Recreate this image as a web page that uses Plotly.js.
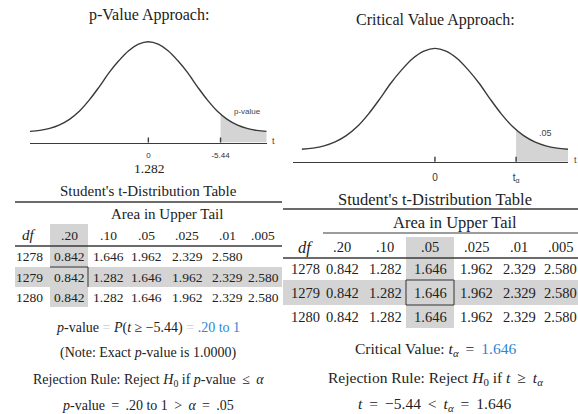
<!DOCTYPE html>
<html><head><meta charset="utf-8">
<script src="https://cdn.plot.ly/plotly-3.0.1.min.js"></script>
<style>html,body{margin:0;padding:0;background:#fff}</style>
</head><body><div id="chart" style="width:578px;height:414px"></div>
<script>
// ---------- data ----------
const curveT = [-3,-2.75,-2.5,-2.25,-2,-1.75,-1.5,-1.25,-1,-0.75,-0.5,-0.25,0,0.25,0.5,0.75,1,1.25,1.5,1.75,2,2.25,2.5,2.75,3];
const curveDensity = [0.11,0.12,0.14,0.175,0.23,0.31,0.42,0.55,0.69,0.81,0.91,0.975,1,0.975,0.91,0.81,0.69,0.55,0.42,0.31,0.23,0.175,0.14,0.12,0.11];
const tailStart = 1.83;                 // sketch position of the marked statistic
const tickPositions = [0, tailStart];
const leftTickText = ['0', '-5.44'];
const rightTickText = ['0', 't<sub>α</sub>'];
const upperTailAreas = ['.20', '.10', '.05', '.025', '.01', '.005'];
const dfValues = ['1278', '1279', '1280'];
const leftTableRows = [
  ['0.842','1.646','1.962','2.329','2.580',''],
  ['0.842','1.282','1.646','1.962','2.329','2.580'],
  ['0.842','1.282','1.646','1.962','2.329','2.580']
];
const rightTableRows = [
  ['0.842','1.282','1.646','1.962','2.329','2.580'],
  ['0.842','1.282','1.646','1.962','2.329','2.580'],
  ['0.842','1.282','1.646','1.962','2.329','2.580']
];
const leftHighlightCol = 0;   // .20
const rightHighlightCol = 2;  // .05

// ---------- helpers ----------
const W = 578, H = 414;
const px = x => x / W, py = y => 1 - y / H;
const SERIF = 'Liberation Serif, Times New Roman, serif';
const SANS = 'Liberation Sans, Arial, sans-serif';
const INK = '#222222', GRAY = '#d4d4d4', BLUE = '#2b86d6', LIGHT = '#cccccc';
const TS = '\u2009';
const rel = s => ' ' + TS + s + TS + ' ';
const annotations = [], shapes = [];
function A(text, x, y, size, extra) {
  annotations.push(Object.assign({text, x: px(x), y: py(y), xref: 'paper', yref: 'paper',
    xanchor: 'center', yanchor: 'middle', showarrow: false,
    font: {family: SERIF, size, color: INK}}, extra || {}));
}
function rect(x0, y0, x1, y1, fill, line) {
  shapes.push({type: 'rect', xref: 'paper', yref: 'paper', x0: px(x0), x1: px(x1), y0: py(y1), y1: py(y0),
    fillcolor: fill || 'rgba(0,0,0,0)', line: line || {width: 0}});
}
function hline(x0, x1, y, w, c) {
  shapes.push({type: 'line', xref: 'paper', yref: 'paper', x0: px(x0), x1: px(x1), y0: py(y), y1: py(y),
    line: {color: c || '#3a3a3a', width: w || 1.2}});
}
function vline(x, y0, y1, w, c) {
  shapes.push({type: 'line', xref: 'paper', yref: 'paper', x0: px(x), x1: px(x), y0: py(y0), y1: py(y1),
    line: {color: c || '#3a3a3a', width: w || 1.2}});
}
function interp(t) {
  for (let i = 0; i < curveT.length - 1; i++) {
    if (t >= curveT[i] && t <= curveT[i + 1]) {
      const f = (t - curveT[i]) / (curveT[i + 1] - curveT[i]);
      return curveDensity[i] + f * (curveDensity[i + 1] - curveDensity[i]);
    }
  }
  return 0;
}
const shadeX = [tailStart].concat(curveT.filter(t => t > tailStart));
const shadeY = shadeX.map(interp);

// ---------- traces ----------
const traces = [];
[['x', 'y'], ['x2', 'y2']].forEach(([xa, ya]) => {
  traces.push({x: shadeX, y: shadeY, xaxis: xa, yaxis: ya, mode: 'lines', fill: 'tozeroy',
    fillcolor: GRAY, line: {width: 0, shape: 'spline'}, hoverinfo: 'skip', showlegend: false});
  traces.push({x: curveT, y: curveDensity, xaxis: xa, yaxis: ya, mode: 'lines',
    line: {color: '#3a3a3a', width: 1.4, shape: 'spline', smoothing: 1}, hoverinfo: 'skip', showlegend: false});
});

// tick marks crossing the axis line
[['x', 'y'], ['x2', 'y2']].forEach(([xa, ya]) => {
  tickPositions.forEach(t => shapes.push({type: 'line', xref: xa, yref: ya, x0: t, x1: t,
    ysizemode: 'pixel', yanchor: 0, y0: -5, y1: 5, line: {color: '#3a3a3a', width: 1.4}}));
});

// ---------- titles / curve labels ----------
A('p-Value Approach:', 149, 15, 16);
A('Critical Value Approach:', 435, 20, 16);
A('p-value', 247, 112, 8, {font: {family: SANS, size: 8, color: '#444'}});
A('.05', 545, 133, 9, {font: {family: SANS, size: 9, color: '#444'}});
A('t', 273, 141, 9, {font: {family: SANS, size: 9, color: '#444'}});
A('t', 575, 160, 9, {font: {family: SANS, size: 9, color: '#444'}});
A('1.282', 149, 168, 13.5);

// ---------- tables ----------
function table(cfg, rows) {
  const hc = cfg.cols[cfg.hiCol + 1];
  rect(hc - cfg.hw, cfg.headerTop, hc + cfg.hw, cfg.colBottom, GRAY);
  rect(cfg.x0, cfg.bandTop, cfg.x1, cfg.bandBot, GRAY);
  hline(cfg.x0, cfg.x1, cfg.topRule, 1.3);
  if (cfg.areaRule) hline(cfg.areaRuleX0, cfg.x1, cfg.areaRule, 1.2);
  hline(cfg.x0, cfg.x1, cfg.headerRule, 1.3);
  A("Student's t-Distribution Table", cfg.titleX, cfg.titleY, cfg.ws);
  A('Area in Upper Tail', cfg.areaX, cfg.areaY, cfg.ws);
  A('<i>df</i>', cfg.cols[0], cfg.headerY, cfg.ws);
  upperTailAreas.forEach((a, j) => A(a, cfg.cols[j + 1], cfg.headerY, cfg.fs));
  dfValues.forEach((d, i) => {
    A(d, cfg.cols[0], cfg.rows[i], cfg.fs);
    rows[i].forEach((v, j) => { if (v) A(v, cfg.cols[j + 1], cfg.rows[i], cfg.fs); });
  });
  cfg.box(hc);
}
table({x0: 15, x1: 282, cols: [29, 69, 108, 146, 187, 227, 263], hiCol: leftHighlightCol, hw: 19,
  titleX: 148, titleY: 191, topRule: 202, areaX: 167, areaY: 214, headerY: 235, headerTop: 224,
  headerRule: 246, rows: [256, 277, 297], bandTop: 267, bandBot: 287, colBottom: 307, fs: 13.5, ws: 15,
  box: hc => { hline(hc - 19, hc + 19, 267, 1, '#333'); vline(hc + 19, 267, 287, 1, '#333'); }
}, leftTableRows);
table({x0: 283, x1: 578, cols: [305, 342, 385, 430, 476, 519, 560], hiCol: rightHighlightCol, hw: 24,
  titleX: 435, titleY: 199, topRule: 209, areaX: 455, areaY: 222, areaRule: 233, areaRuleX0: 323,
  headerY: 247, headerTop: 237, headerRule: 258, rows: [269, 293, 317], bandTop: 280, bandBot: 305,
  colBottom: 328, fs: 14.5, ws: 16.5,
  box: hc => rect(hc - 24, 280, hc + 24, 305, 'rgba(0,0,0,0)', {color: '#333', width: 1})
}, rightTableRows);

// ---------- text lines ----------
const eqL = '<span style="color:' + LIGHT + '">=</span>';
A('<i>p</i>-value ' + eqL + ' <i>P</i>(<i>t</i> ≥ −5.44) ' + eqL + ' <span style="color:' + BLUE + '">.20 to 1</span>', 148, 328, 14);
A('(Note: Exact <i>p</i>-value is 1.0000)', 148, 353, 14);
A('Rejection Rule: Reject <i>H</i><sub>0</sub> if <i>p</i>-value' + rel('≤') + '<i>α</i>', 148, 380, 14);
A('<i>p</i>-value' + rel('=') + '.20 to 1' + rel('&gt;') + '<i>α</i>' + rel('=') + '.05', 148, 405, 14);
A('Critical Value: <i>t<sub>α</sub></i>' + rel('=') + '<span style="color:' + BLUE + '">1.646</span>', 435, 349, 15.5);
A('Rejection Rule: Reject <i>H</i><sub>0</sub> if <i>t</i>' + rel('≥') + '<i>t<sub>α</sub></i>', 435, 378, 15.5);
A('<i>t</i>' + rel('=') + '−5.44' + rel('&lt;') + '<i>t<sub>α</sub></i>' + rel('=') + '1.646', 434, 404, 15.5);

// ---------- layout ----------
const axisBase = {showline: true, linecolor: '#3a3a3a', linewidth: 1.3, showgrid: false, zeroline: false,
  tickvals: tickPositions, ticks: 'outside', ticklen: 5, tickcolor: 'rgba(0,0,0,0)', fixedrange: true};
const layout = {
  width: W, height: H, margin: {l: 0, r: 0, t: 0, b: 0}, paper_bgcolor: '#fff', plot_bgcolor: 'rgba(0,0,0,0)',
  showlegend: false,
  xaxis: Object.assign({}, axisBase, {domain: [px(30), px(266.7)], range: [-3, 3], anchor: 'y',
    ticktext: leftTickText, tickfont: {family: SANS, size: 8, color: '#333'}}),
  yaxis: {domain: [py(142.5), py(31.6)], range: [0, 1.1], visible: false, fixedrange: true, anchor: 'x'},
  xaxis2: Object.assign({}, axisBase, {domain: [px(293), px(568)], range: [-3.2, 3.0], anchor: 'y2',
    ticktext: rightTickText, ticklen: 6, tickfont: {family: SANS, size: 10, color: '#333'}}),
  yaxis2: {domain: [py(161.7), py(37)], range: [0, 1.1], visible: false, fixedrange: true, anchor: 'x2'},
  annotations, shapes
};
Plotly.newPlot('chart', traces, layout, {staticPlot: true, displayModeBar: false});
</script></body></html>
